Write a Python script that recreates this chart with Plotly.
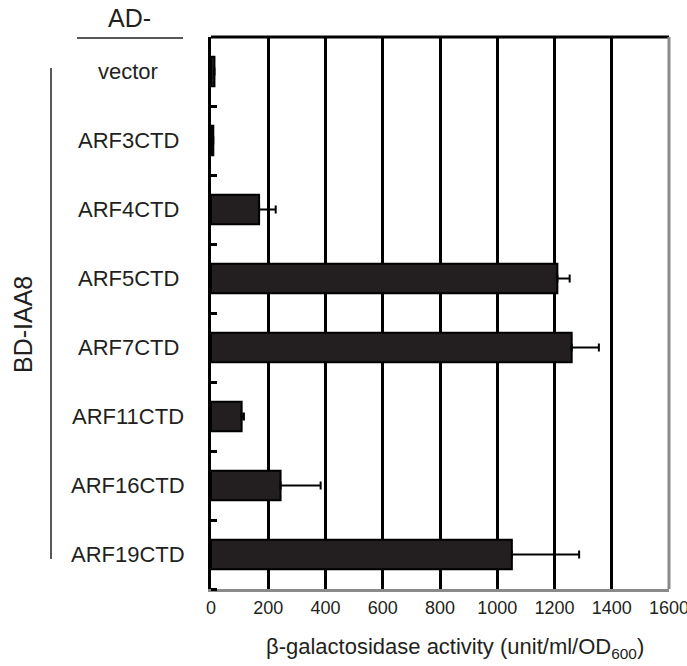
import plotly.graph_objects as go

categories = ["vector", "ARF3CTD", "ARF4CTD", "ARF5CTD", "ARF7CTD", "ARF11CTD", "ARF16CTD", "ARF19CTD"]
activity = [12, 8, 168, 1210, 1260, 107, 243, 1051]
err_plus = [0, 0, 58, 43, 95, 8, 140, 235]
x_ticks = [0, 200, 400, 600, 800, 1000, 1200, 1400, 1600]

W, H = 687, 666
L, R, T, B = 211, 18, 37, 77
pw, ph = W - L - R, H - T - B

def px(x):
    return (x - L) / pw

def py(y):
    return (H - B - y) / ph

FONT = "Arial, Liberation Sans, Helvetica, sans-serif"
INK = "#231f20"

pos = list(range(len(categories)))

fig = go.Figure()
fig.add_trace(go.Bar(
    x=activity, y=pos, orientation="h", width=0.43,
    marker=dict(color=INK, line=dict(color="black", width=2)),
    error_x=dict(type="data", symmetric=False, array=err_plus,
                 arrayminus=[0] * len(err_plus), color="black",
                 thickness=2, width=4),
    showlegend=False, hoverinfo="skip",
))

annotations = []
for i, c in enumerate(categories):
    annotations.append(dict(text=c, x=px(128), xref="paper", y=i, yref="y",
                            xanchor="center", yanchor="middle", showarrow=False,
                            font=dict(size=22, color=INK, family=FONT)))
annotations += [
    dict(text="AD-", x=px(129), y=py(18), xref="paper", yref="paper",
         xanchor="center", yanchor="middle", showarrow=False,
         font=dict(size=25, color=INK, family=FONT)),
    dict(text="BD-IAA8", x=px(23), y=py(325), xref="paper", yref="paper",
         xanchor="center", yanchor="middle", showarrow=False, textangle=-90,
         font=dict(size=25, color=INK, family=FONT)),
    dict(text="β-galactosidase activity (unit/ml/OD<sub>600</sub>)",
         x=px(455), y=py(648), xref="paper", yref="paper",
         xanchor="center", yanchor="middle", showarrow=False,
         font=dict(size=22, color=INK, family=FONT)),
]

shapes = [
    dict(type="line", xref="paper", yref="paper", x0=px(77), x1=px(183),
         y0=py(38), y1=py(38), line=dict(color=INK, width=1.5)),
    dict(type="line", xref="paper", yref="paper", x0=px(51), x1=px(51),
         y0=py(68), y1=py(559), line=dict(color=INK, width=1.5)),
    dict(type="line", xref="paper", yref="paper", x0=0, x1=1, y0=1, y1=1,
         line=dict(color="black", width=3)),
    dict(type="line", xref="paper", yref="paper", x0=1, x1=1, y0=0, y1=1,
         line=dict(color="#8a8a8a", width=3)),
]

fig.update_layout(
    width=W, height=H,
    margin=dict(l=L, r=R, t=T, b=B, autoexpand=False),
    paper_bgcolor="white", plot_bgcolor="white",
    font=dict(family=FONT, color=INK),
    annotations=annotations, shapes=shapes,
    xaxis=dict(range=[0, 1600], tickvals=x_ticks, ticktext=[str(v) for v in x_ticks],
               showgrid=True, gridcolor="black", gridwidth=3,
               showline=True, linecolor="#8a8a8a", linewidth=3,
               ticks="", zeroline=False, ticklabeloverflow="allow",
               tickfont=dict(size=18, color=INK, family=FONT)),
    yaxis=dict(range=[len(categories) - 0.5, -0.5], tickvals=pos,
               showticklabels=False, showgrid=False, zeroline=False,
               showline=True, linecolor="black", linewidth=3, ticks="",
               minor=dict(tickvals=[i + 0.5 for i in pos], ticks="inside",
                          ticklen=6, tickwidth=3, tickcolor="black",
                          showgrid=False)),
    bargap=0,
)

fig.write_html("out.html", config={"displayModeBar": False, "staticPlot": True},
               post_script="document.body.style.margin='0';document.body.style.overflow='hidden';")
